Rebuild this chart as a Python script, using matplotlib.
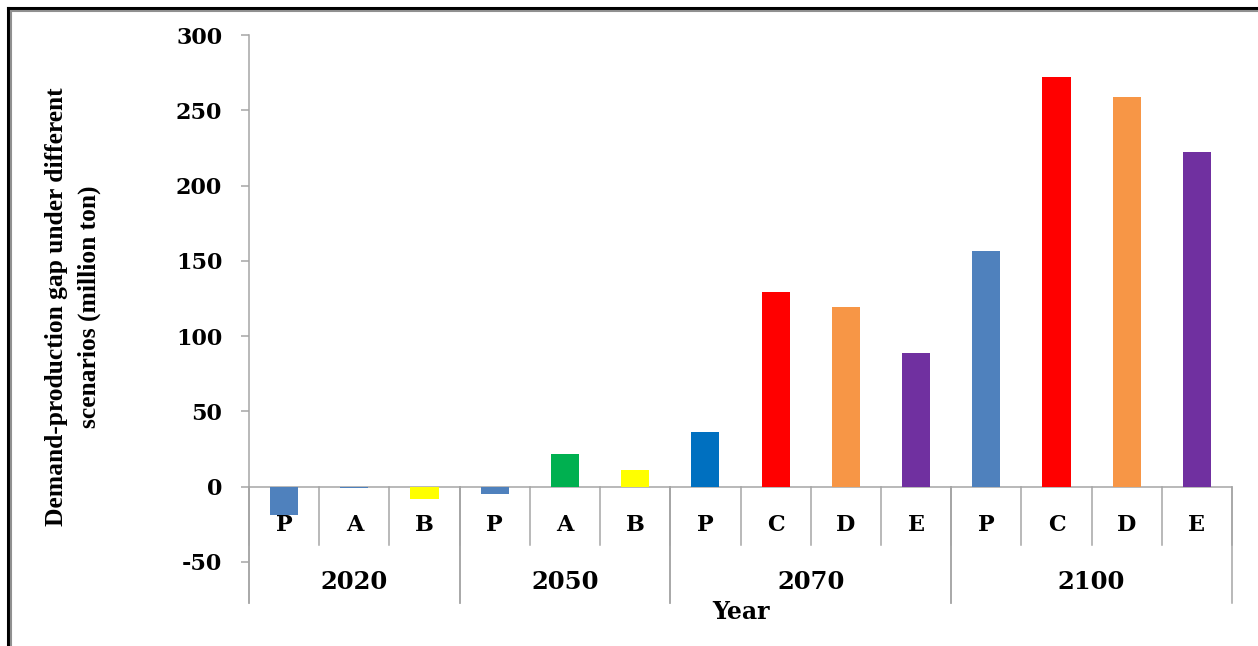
import matplotlib
matplotlib.use("Agg")
import matplotlib.pyplot as plt
from matplotlib.lines import Line2D

years = ['2020', '2050', '2070', '2100']
scenarios_2020 = ['P', 'A', 'B']
scenarios_2050 = ['P', 'A', 'B']
scenarios_2070 = ['P', 'C', 'D', 'E']
scenarios_2100 = ['P', 'C', 'D', 'E']
values_2020 = [-19, -1, -8]
values_2050 = [-5, 22, 11]
values_2070 = [36, 129, 119, 89]
values_2100 = [156.5, 272, 259, 222]
colors_2020 = ['#4F81BD', '#4F81BD', '#FFFF00']
colors_2050 = ['#4F81BD', '#00B050', '#FFFF00']
colors_2070 = ['#0070C0', '#FF0000', '#F79646', '#7030A0']
colors_2100 = ['#4F81BD', '#FF0000', '#F79646', '#7030A0']
yticks = [-50, 0, 50, 100, 150, 200, 250, 300]

groups = [
    (years[0], scenarios_2020, values_2020, colors_2020),
    (years[1], scenarios_2050, values_2050, colors_2050),
    (years[2], scenarios_2070, values_2070, colors_2070),
    (years[3], scenarios_2100, values_2100, colors_2100),
]

labels, vals, cols, group_spans = [], [], [], []
start = 0
for yr, sc, v, c in groups:
    labels += sc
    vals += v
    cols += c
    group_spans.append((yr, start, start + len(sc)))
    start += len(sc)
n = len(vals)
xs = list(range(n))

W, H = 1258, 646
fig = plt.figure(figsize=(W / 100, H / 100), dpi=100)
fig.patch.set_facecolor('white')

ax_left, ax_right = 249 / W, 1232 / W
ax_top, ax_bot = 35 / H, 603 / H
ax = fig.add_axes([ax_left, 1 - ax_bot, ax_right - ax_left, ax_bot - ax_top])

ax.bar(xs, vals, width=0.40, color=cols, edgecolor='none', zorder=3)
ax.set_xlim(-0.5, n - 0.5)
ax.set_ylim(-77.3, 300)

grey = '#A6A6A6'
lw = 1.1
for s in ['top', 'right', 'bottom']:
    ax.spines[s].set_visible(False)
ax.spines['left'].set_color(grey)
ax.spines['left'].set_linewidth(lw)
ax.axhline(0, color=grey, lw=lw, zorder=2)

ax.set_yticks(yticks)
ax.set_yticklabels([str(t) for t in yticks])
ax.tick_params(axis='y', direction='out', length=5.8, width=lw, color=grey, pad=13.5)
ax.set_xticks([])

for lab in ax.get_yticklabels():
    lab.set_fontfamily('DejaVu Serif')
    lab.set_fontweight('bold')
    lab.set_fontsize(16)

# inner category separators and labels
inner_bottom = -38.7
for i in range(n + 1):
    ax.plot([i - 0.5, i - 0.5], [0, inner_bottom], color=grey, lw=lw,
            clip_on=False, zorder=2)
for i, lab in enumerate(labels):
    ax.text(i, -25.5, lab, ha='center', va='center',
            family='DejaVu Serif', weight='bold', size=16)

# group separators and labels
for yr, s, e in group_spans:
    for xb in (s - 0.5, e - 0.5):
        ax.plot([xb, xb], [0, -77.3], color=grey, lw=lw, clip_on=False, zorder=2)
    ax.text((s + e - 1) / 2, -63.5, yr, ha='center', va='center',
            family='DejaVu Serif', weight='bold', size=17.5)

fig.text(741 / W, 1 - 612 / H, 'Year', ha='center', va='center',
         family='DejaVu Serif', weight='bold', size=17)

fig.text(73 / W, 1 - 307 / H,
         'Demand-production gap under different\nscenarios (million ton)',
         rotation=90, ha='center', va='center', multialignment='center',
         family='Liberation Serif', weight='bold', size=18.4, linespacing=1.5)

# frame border (top and left)
fig.add_artist(Line2D([8 / W, 8 / W], [0, 1 - 8 / H], color='black', lw=2.2,
                      transform=fig.transFigure))
fig.add_artist(Line2D([10.5 / W, 10.5 / W], [0, 1 - 10.5 / H], color='#909090', lw=1.5,
                      transform=fig.transFigure))
fig.add_artist(Line2D([8 / W, 1], [1 - 8 / H, 1 - 8 / H], color='black', lw=2.2,
                      transform=fig.transFigure))
fig.add_artist(Line2D([10.5 / W, 1], [1 - 10.5 / H, 1 - 10.5 / H], color='#909090', lw=1.5,
                      transform=fig.transFigure))

fig.savefig('out.png', dpi=100, facecolor='white')
